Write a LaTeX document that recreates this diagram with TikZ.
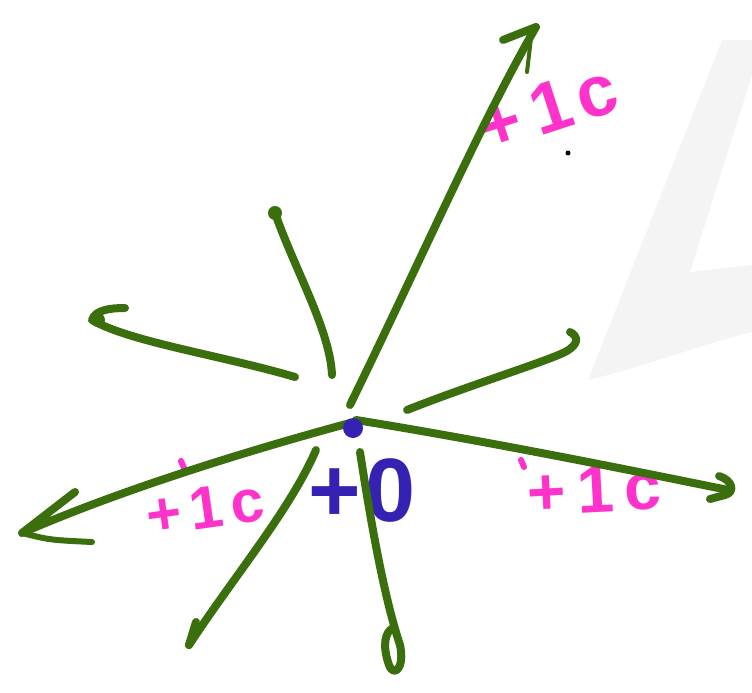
\documentclass[tikz,border=0pt]{standalone}
\usepackage{fontspec}
\setmainfont{Liberation Sans}
\usepackage{tikz}

\definecolor{penGreen}{HTML}{3B6E0C}
\definecolor{penPink}{HTML}{FF33CC}
\definecolor{penBlue}{HTML}{3522B2}
\definecolor{ghost}{HTML}{F4F4F4}

\tikzset{
  pen/.style={penGreen, line width=8, line cap=round, line join=round},
  tag/.style={text=penPink, inner sep=0pt},
}

\begin{document}
\begin{tikzpicture}[x=1pt, y=-1pt]
  \useasboundingbox (0,0) rectangle (752,693);
  % faint shape in the background
  \fill[ghost] (588,380) -- (722,40) -- (752,40) -- (752,75) -- (690,272)
    -- (752,265) -- (752,332) .. controls (700,345) and (640,368) .. (588,380) -- cycle;

  % labels
  \node[tag, rotate=18, font=\bfseries\fontsize{72}{72}\selectfont] (tagNE) at (548,108) {+\kern12pt1\kern8pt c};
  \node[tag, rotate=8, font=\bfseries\fontsize{60}{60}\selectfont] (tagSW) at (205,508) {+\kern8pt1\kern8pt c};
  \node[tag, rotate=3, font=\bfseries\fontsize{66}{66}\selectfont] (tagE) at (594,490) {+\kern12pt1\kern10pt c};
  \node[text=penBlue, inner sep=0pt, font=\bfseries\fontsize{90}{90}\selectfont] (zero) at (362,491) {+\kern4pt0};
  \draw[penPink, line width=6, line cap=round] (181,461) -- (184,468);
  \draw[penPink, line width=6, line cap=round] (521,460) -- (524,467);
  \fill (568,153) circle (2.5);

  % ends of the strokes
  \coordinate (o) at (353,428);
  \coordinate (ne) at (536,27);
  \coordinate (nw) at (275,213);
  \coordinate (w) at (92,320);
  \coordinate (ene) at (570,332);
  \coordinate (e) at (728,490);
  \coordinate (sw) at (22,533);
  \coordinate (ssw) at (189,645);
  \coordinate (s) at (400,645);

  % green strokes
  \draw[pen] (350,405) .. controls (420,262) and (482,120) .. (ne) -- (503,40);
  \draw[pen, line width=4] (531,38) -- (527,72);
  \draw[pen] (nw) .. controls (295,270) and (330,330) .. (332,375);
  \fill[penGreen] (nw) circle (7);
  \draw[pen] (295,377) .. controls (220,355) and (130,342) .. (w)
    .. controls (95,310) and (110,308) .. (125,308);
  \fill[penGreen] (98,320) circle (7);
  \draw[pen] (407,410) .. controls (470,385) and (545,362) .. (565,352)
    .. controls (580,344) and (578,336) .. (ene);
  \draw[pen] (356,420) .. controls (480,440) and (620,468) .. (e);
  \draw[pen] (719,476) .. controls (732,480) and (736,492) .. (725,495) -- (710,499);
  \draw[pen] (350,423) .. controls (250,450) and (120,490) .. (sw) -- (75,492);
  \draw[pen, line width=6] (sw) .. controls (50,540) .. (92,542);
  \draw[pen] (316,450) .. controls (290,510) and (235,575) .. (ssw);
  \draw[pen] (196,622) -- (ssw);
  \draw[pen] (360,452) .. controls (372,530) and (385,600) .. (s)
    .. controls (405,668) and (394,678) .. (389,665)
    .. controls (382,645) and (385,632) .. (393,628);

  % the blue point
  \fill[penBlue] (o) circle (10);
\end{tikzpicture}
\end{document}
